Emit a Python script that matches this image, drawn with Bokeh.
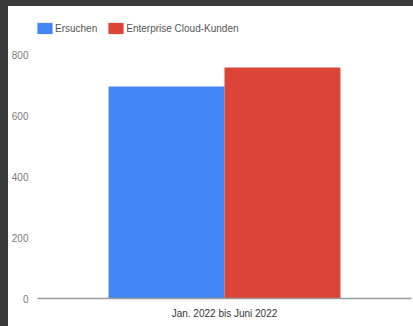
from bokeh.plotting import figure
from bokeh.models import FactorRange, Range1d, Legend, LegendItem, ColumnDataSource
from bokeh.transform import dodge
from bokeh.layouts import column
from bokeh.embed import file_html
from bokeh.resources import INLINE

categories = ["Jan. 2022 bis Juni 2022"]
series_names = ["Ersuchen", "Enterprise Cloud-Kunden"]
ersuchen = [695]
cloud_kunden = [757]
y_ticks = [0, 200, 400, 600, 800]

FONT = "Liberation Sans Narrow, Arial Narrow, Liberation Sans, sans-serif"

# frame spans 284 px; the 800 tick sits 244 px above the baseline
Y_MAX = 800 * 284 / 244

src = ColumnDataSource(dict(cat=categories, a=ersuchen, b=cloud_kunden))

p = figure(width=405, height=320, x_range=FactorRange(*categories, range_padding=0),
           y_range=Range1d(0, Y_MAX), output_backend="svg", toolbar_location=None,
           min_border_left=29, min_border_right=2, min_border_top=8, min_border_bottom=28,
           margin=(6, 0, 0, 8))
p.outline_line_color = None
p.xgrid.grid_line_color = None
p.ygrid.grid_line_color = None
p.background_fill_color = "white"
p.border_fill_color = "white"

r1 = p.vbar(x=dodge("cat", -0.155, range=p.x_range), top="a", width=0.31, source=src,
            fill_color="#4285F4", line_color=None)
r2 = p.vbar(x=dodge("cat", 0.155, range=p.x_range), top="b", width=0.31, source=src,
            fill_color="#DB4437", line_color=None)

p.yaxis.ticker = y_ticks
p.yaxis.axis_line_color = None
p.yaxis.major_tick_line_color = None
p.yaxis.minor_tick_line_color = None
p.yaxis.major_tick_out = 0
p.yaxis.major_tick_in = 0
p.yaxis.minor_tick_out = 0
p.yaxis.major_label_text_font = FONT
p.yaxis.major_label_text_font_size = "10px"
p.yaxis.major_label_text_color = "#7a7a7a"
p.yaxis.major_label_standoff = 9

p.xaxis.axis_line_color = "#9a9a9a"
p.xaxis.axis_line_width = 1.5
p.xaxis.major_tick_line_color = None
p.xaxis.minor_tick_line_color = None
p.xaxis.major_tick_out = 0
p.xaxis.major_tick_in = 0
p.xaxis.major_label_text_font = FONT
p.xaxis.major_label_text_font_size = "10px"
p.xaxis.major_label_text_color = "#333333"
p.xaxis.major_label_standoff = 9

legend = Legend(items=[LegendItem(label=series_names[0], renderers=[r1]),
                       LegendItem(label=series_names[1], renderers=[r2])],
                orientation="horizontal", location=(-2, 263),
                border_line_color=None, background_fill_alpha=0,
                padding=0, margin=0, spacing=9, label_standoff=1,
                glyph_width=19, glyph_height=14, label_height=14,
                label_text_font=FONT, label_text_font_size="10px",
                label_text_color="#555555")
p.add_layout(legend, "center")

layout = column(p, width=413, height=326,
                styles={"background-color": "white",
                        "box-shadow": "inset 8px 6px 0 0 #3a3a3a"})

open("out.html", "w").write(file_html(layout, INLINE))
